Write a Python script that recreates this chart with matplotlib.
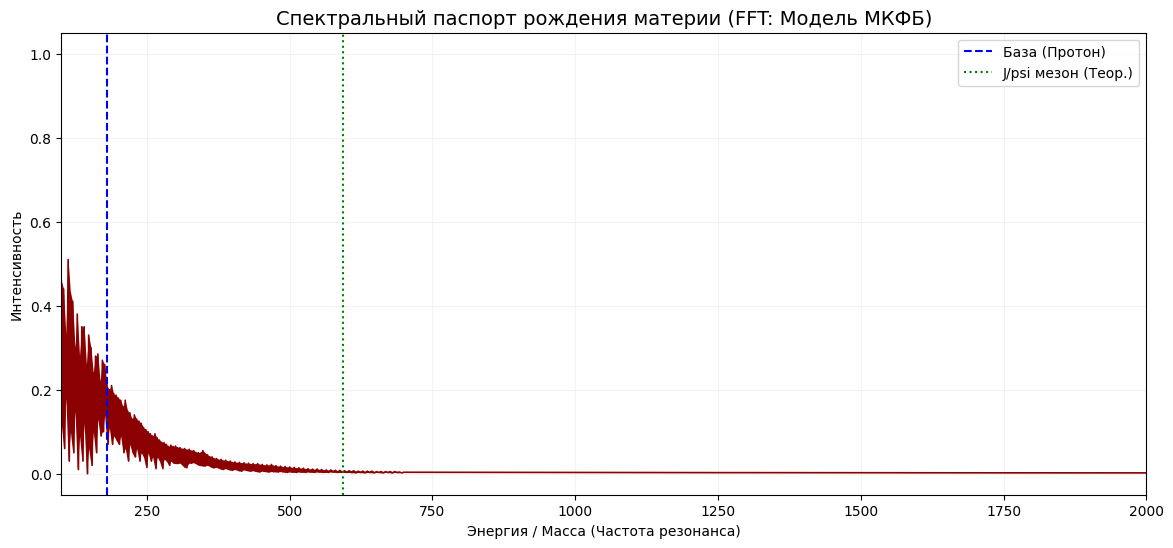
import numpy as np
import matplotlib
matplotlib.use("Agg")
import matplotlib.pyplot as plt

# spectrum: alternating peak / trough samples
freq_low = np.arange(100, 300, 2)
amp_low = [
    0.46, 0.12, 0.44, 0.06, 0.33, 0.18, 0.51, 0.03, 0.43, 0.10,
    0.41, 0.05, 0.30, 0.15, 0.38, 0.01, 0.28, 0.09, 0.35, 0.03,
    0.35, 0.12, 0.26, 0.00, 0.33, 0.06, 0.30, 0.02, 0.24, 0.10,
    0.28, 0.05, 0.285, 0.13, 0.22, 0.09, 0.27, 0.10, 0.26, 0.14,
    0.21, 0.07, 0.20, 0.11, 0.21, 0.07, 0.19, 0.09, 0.187, 0.08,
    0.18, 0.07, 0.175, 0.09, 0.16, 0.05, 0.175, 0.06, 0.15, 0.03,
    0.145, 0.07, 0.13, 0.05, 0.14, 0.04, 0.13, 0.06, 0.125, 0.03,
    0.12, 0.05, 0.11, 0.04, 0.105, 0.015, 0.10, 0.05, 0.095, 0.03,
    0.09, 0.04, 0.095, 0.012, 0.085, 0.04, 0.08, 0.03, 0.075, 0.012,
    0.074, 0.035, 0.07, 0.03, 0.065, 0.02, 0.068, 0.03, 0.065, 0.025,
]

freq_mid = np.arange(300, 700, 4)
amp_mid = [
    0.066, 0.024, 0.062, 0.025, 0.060, 0.014, 0.058, 0.025, 0.055, 0.026,
    0.050, 0.020, 0.055, 0.018, 0.045, 0.020, 0.040, 0.014, 0.036, 0.015,
    0.034, 0.010, 0.032, 0.012, 0.030, 0.008, 0.028, 0.010, 0.027, 0.006,
    0.026, 0.009, 0.025, 0.006, 0.024, 0.007, 0.024, 0.004, 0.022, 0.006,
    0.021, 0.004, 0.022, 0.005, 0.019, 0.004, 0.018, 0.005, 0.017, 0.003,
    0.016, 0.004, 0.015, 0.003, 0.014, 0.004, 0.013, 0.003, 0.012, 0.004,
    0.011, 0.003, 0.011, 0.004, 0.010, 0.003, 0.009, 0.003, 0.009, 0.004,
    0.008, 0.003, 0.008, 0.003, 0.007, 0.003, 0.007, 0.003, 0.007, 0.002,
    0.006, 0.003, 0.006, 0.002, 0.006, 0.003, 0.006, 0.002, 0.005, 0.003,
    0.005, 0.002, 0.005, 0.003, 0.005, 0.002, 0.005, 0.003, 0.004, 0.002,
]

freq_high = np.arange(700, 2050, 50)
amp_high = [
    0.0035, 0.0034, 0.0033, 0.0032, 0.0031, 0.003, 0.003, 0.0029, 0.0028, 0.0028,
    0.0027, 0.0026, 0.0026, 0.0025, 0.0025, 0.0024, 0.0024, 0.0023, 0.0023, 0.0022,
    0.0022, 0.0021, 0.0021, 0.002, 0.002, 0.002, 0.002,
]

proton_line = 180
jpsi_line = 594

freq = np.concatenate([freq_low, freq_mid, freq_high])
amp = np.concatenate([amp_low, amp_mid, amp_high])

# peaks and troughs of the dense part, to fill the band between them
band_x = np.concatenate([freq_low, freq_mid])[0::2]
band_amp = np.concatenate([amp_low, amp_mid])
band_hi = band_amp[0::2]
band_lo = band_amp[1::2]

fig, ax = plt.subplots(figsize=(14, 6))
ax.fill_between(band_x, band_lo, band_hi, color='darkred', lw=0)
ax.plot(freq, amp, color='darkred', lw=1.2)
ax.axvline(proton_line, color='blue', linestyle='--', label='База (Протон)')
ax.axvline(jpsi_line, color='green', linestyle=':', label='J/psi мезон (Теор.)')

ax.set_xlim(100, 2000)
ax.set_ylim(-0.05, 1.05)
ax.set_title('Спектральный паспорт рождения материи (FFT: Модель МКФБ)', fontsize=14)
ax.set_xlabel('Энергия / Масса (Частота резонанса)')
ax.set_ylabel('Интенсивность')
ax.grid(True, alpha=0.15)
ax.legend(loc='upper right')

plt.savefig('out.png', dpi=100, bbox_inches='tight')
